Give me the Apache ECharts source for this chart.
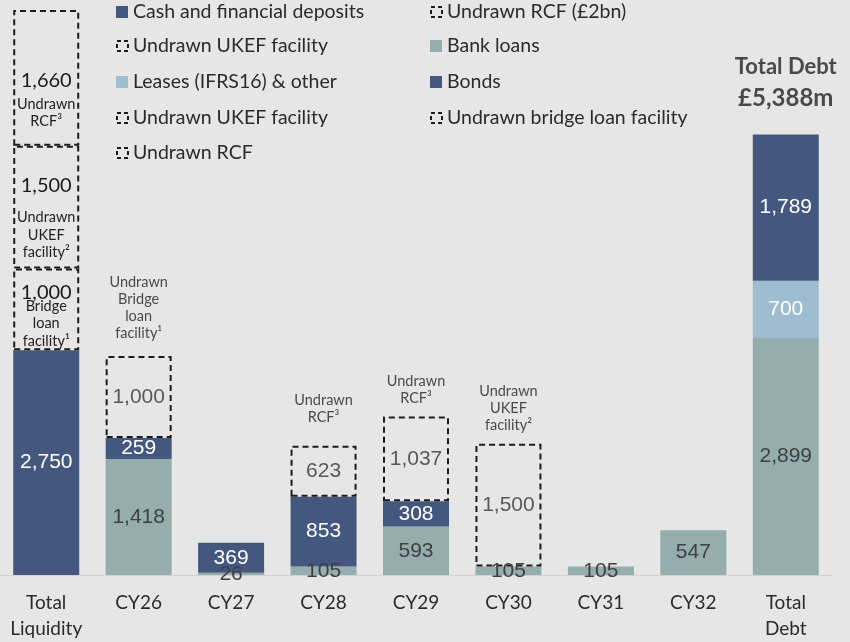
<!DOCTYPE html>
<html>
<head>
<meta charset="utf-8">
<script src="https://cdn.jsdelivr.net/npm/echarts@6/dist/echarts.min.js"></script>
<style>
  html, body { margin: 0; padding: 0; background: #e6e6e6; }
  #chart { width: 850px; height: 642px; }
</style>
</head>
<body>
<div id="chart"></div>
<script>
// Debt maturity profile (£m) against available liquidity
const categories = ['Total\nLiquidity', 'CY26', 'CY27', 'CY28', 'CY29', 'CY30', 'CY31', 'CY32', 'Total\nDebt'];

const cashDeposits   = [2750, null, null, null, null, null, null, null, null];
const bankLoans      = [null, 1418, 26, 105, 593, 105, 105, 547, 2899];
const leasesOther    = [null, null, null, null, null, null, null, null, 700];
const bonds          = [null, 259, 369, 853, 308, null, null, null, 1789];
const undrawnBridge  = [1000, 1000, null, null, null, null, null, null, null];
const undrawnUkef    = [1500, null, null, null, null, 1500, null, null, null];
const undrawnRcf2bn  = [1660, null, null, null, null, null, null, null, null];
const undrawnRcf     = [null, null, null, 623, 1037, null, null, null, null];

// captions printed above the undrawn boxes of each year
const yearCaptions = ['', 'Undrawn\nBridge\nloan\nfacility¹', '', 'Undrawn\nRCF³', 'Undrawn\nRCF³', 'Undrawn\nUKEF\nfacility²', '', '', ''];
// captions printed inside the facility boxes of the liquidity column
const bridgeCaption = ['Bridge', 'loan', 'facility¹'];
const ukefCaption   = ['Undrawn', 'UKEF', 'facility²'];
const rcfCaption    = ['Undrawn', 'RCF³'];

const DARK = '#44587f', TEAL = '#95adad', LIGHT = '#9fbdd0';
const NUM_FONT = 'Liberation Sans';
const TXT_FONT = 'Lato';

const fmt = v => Number(v).toLocaleString('en-US');
const allStacks = [cashDeposits, bankLoans, leasesOther, bonds, undrawnBridge, undrawnUkef, undrawnRcf2bn, undrawnRcf];
const stackTop = categories.map((_, i) => allStacks.reduce((s, a) => s + (a[i] || 0), 0));
const debtStacks = [bankLoans, leasesOther, bonds];
const lastIdx = categories.length - 1;
const totalDebt = debtStacks.reduce((s, a) => s + (a[lastIdx] || 0), 0);
const axisMax = Math.max(...stackTop);

function solidSeries(name, data, color, labelColor) {
  return {
    name, type: 'bar', stack: 'maturity', barWidth: 66,
    data: data.map(v => v == null ? '-' : v),
    itemStyle: { color },
    label: {
      show: true, position: 'inside', color: labelColor,
      fontFamily: NUM_FONT, fontSize: 21,
      formatter: p => fmt(p.value)
    },
    emphasis: { disabled: true }
  };
}

// label inside a liquidity-column facility box: value plus small caption
function liquidityLabel(caption, valueLine, offsetY) {
  const lines = caption.map(t => '{c|' + t + '}').join('\n');
  return {
    position: 'inside',
    offset: [0, offsetY],
    formatter: p => '{v|' + fmt(p.value) + '}\n' + lines,
    rich: {
      v: { fontFamily: TXT_FONT, fontSize: 20, color: '#1a1a1a', lineHeight: valueLine },
      c: { fontFamily: TXT_FONT, fontSize: 14.5, color: '#222', lineHeight: 17.5 }
    }
  };
}

function dashedSeries(name, data, firstLabel) {
  return {
    name, type: 'bar', stack: 'maturity', barWidth: 66,
    data: data.map((v, i) => {
      if (v == null) return '-';
      if (i === 0 && firstLabel) return { value: v, label: firstLabel };
      return v;
    }),
    itemStyle: {
      color: 'rgba(0,0,0,0)', borderColor: '#1c1c1c', borderWidth: 2,
      borderType: [6, 4]
    },
    label: {
      show: true, position: 'inside', color: '#595959',
      fontFamily: NUM_FONT, fontSize: 21,
      formatter: p => fmt(p.value)
    },
    emphasis: { disabled: true }
  };
}

const captionDistance = [10, 14, 10, 20, 10, 10, 10, 10, 21];
const captionData = categories.map((c, i) => {
  if (i === lastIdx) {
    return {
      value: stackTop[i],
      label: {
        show: true, position: 'top', distance: captionDistance[i],
        formatter: '{b|Total Debt}\n{m|£' + fmt(totalDebt) + 'm}',
        rich: {
          b: { fontFamily: TXT_FONT, fontWeight: 'bold', fontSize: 22, color: '#222', lineHeight: 31 },
          m: { fontFamily: TXT_FONT, fontWeight: 'bold', fontSize: 24, color: '#222', lineHeight: 31 }
        }
      }
    };
  }
  if (!yearCaptions[i]) return '-';
  return {
    value: stackTop[i],
    label: {
      show: true, position: 'top', distance: captionDistance[i],
      formatter: yearCaptions[i],
      fontFamily: TXT_FONT, fontSize: 14.5, color: '#222', lineHeight: 17
    }
  };
});

function legendAt(name, left, top, dashed) {
  const lg = {
    data: [name], left, top, padding: 0,
    itemWidth: dashed ? 11 : 12, itemHeight: dashed ? 10 : 12, icon: 'rect',
    selectedMode: false,
    textStyle: { fontFamily: TXT_FONT, fontSize: 19.5, color: '#2b2b2b', lineHeight: 20 }
  };
  if (dashed) {
    lg.itemStyle = { borderWidth: 2, borderType: [4, 3], borderColor: '#1c1c1c', color: 'rgba(0,0,0,0)' };
  }
  return lg;
}

const option = {
  backgroundColor: '#e6e6e6',
  animation: false,
  grid: { left: 0, right: 18, top: 10, bottom: 65 },
  legend: [
    legendAt('Cash and financial deposits', 116, 2, false),
    legendAt('Undrawn RCF (£2bn)', 430, 2, true),
    legendAt('Undrawn UKEF facility', 116, 36, true),
    legendAt('Bank loans', 430, 36, false),
    legendAt('Leases (IFRS16) & other', 116, 72, false),
    legendAt('Bonds', 430, 72, false),
    legendAt('Undrawn UKEF facility', 116, 108, true),
    legendAt('Undrawn bridge loan facility', 430, 108, true),
    legendAt('Undrawn RCF', 116, 143, true)
  ],
  xAxis: {
    type: 'category', data: categories,
    axisLine: { show: true, lineStyle: { color: '#d2d2d2', width: 1 } },
    axisTick: { show: false },
    axisLabel: { fontFamily: TXT_FONT, fontSize: 19, color: '#2b2b2b', lineHeight: 26, margin: 15, interval: 0 }
  },
  yAxis: { type: 'value', min: 0, max: axisMax, show: false, splitLine: { show: false } },
  series: [
    solidSeries('Cash and financial deposits', cashDeposits, DARK, '#ffffff'),
    solidSeries('Bank loans', bankLoans, TEAL, '#404040'),
    solidSeries('Leases (IFRS16) & other', leasesOther, LIGHT, '#ffffff'),
    solidSeries('Bonds', bonds, DARK, '#ffffff'),
    dashedSeries('Undrawn bridge loan facility', undrawnBridge, liquidityLabel(bridgeCaption, 9, 10)),
    dashedSeries('Undrawn UKEF facility', undrawnUkef, liquidityLabel(ukefCaption, 46, 5)),
    dashedSeries('Undrawn RCF (£2bn)', undrawnRcf2bn, liquidityLabel(rcfCaption, 30, 20)),
    dashedSeries('Undrawn RCF', undrawnRcf, null),
    {
      name: 'captions', type: 'scatter', symbolSize: 0, silent: true,
      data: captionData, z: 5
    }
  ]
};

const chart = echarts.init(document.getElementById('chart'));
chart.setOption(option);
</script>
</body>
</html>
